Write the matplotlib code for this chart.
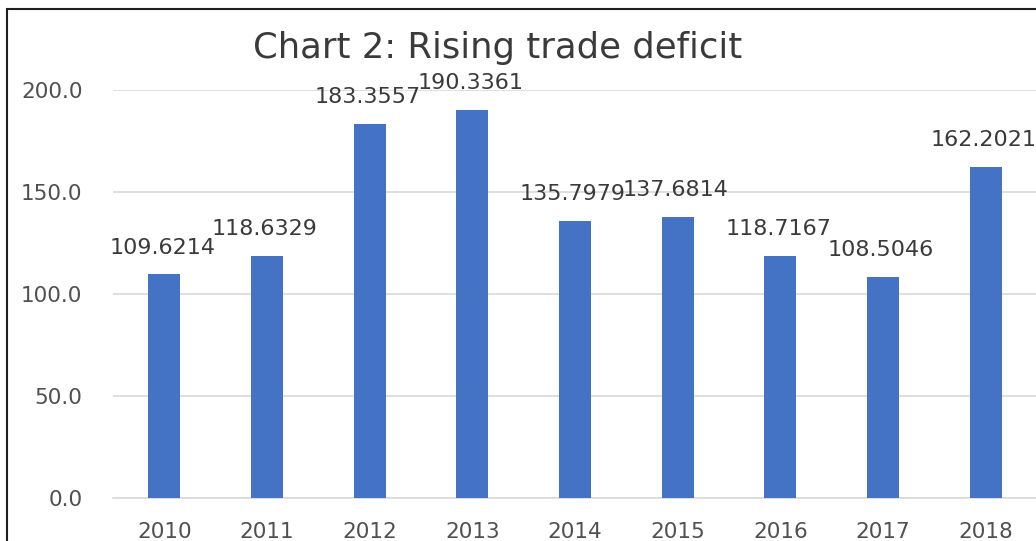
import matplotlib.pyplot as plt
from matplotlib.patches import Rectangle

years = ["2010", "2011", "2012", "2013", "2014", "2015", "2016", "2017", "2018"]
deficit = [109.6214, 118.6329, 183.3557, 190.3361, 135.7979,
           137.6814, 118.7167, 108.5046, 162.2021]
yticks = [0, 50, 100, 150, 200]

BAR_COLOR = "#4472C4"
GRID_COLOR = "#D9D9D9"
TEXT_COLOR = "#3A3A3A"
TICK_COLOR = "#505050"


def main():
    plt.rcParams['font.family'] = ['DejaVu Sans']

    fig = plt.figure(figsize=(10.36, 5.41), dpi=100)
    ax = fig.add_axes([0.1091, 0.0795, 0.8919, 0.7541])

    x = list(range(len(years)))
    ax.bar(x, deficit, width=0.31, color=BAR_COLOR, zorder=3)

    # value labels above each bar
    for xi, v in zip(x, deficit):
        ax.annotate(f"{v:.4f}", xy=(xi, v), xytext=(-1.5, 15),
                    textcoords="offset points", ha="center", va="baseline",
                    fontsize=16, color=TEXT_COLOR, zorder=4)

    ax.set_xlim(-0.5, len(years) - 0.5)
    ax.set_ylim(0, 200)
    ax.set_xticks(x)
    ax.set_xticklabels(years)
    ax.set_yticks(yticks)
    ax.set_yticklabels([f"{t:.1f}" for t in yticks])
    ax.tick_params(axis="both", length=0, labelsize=15.5, labelcolor=TICK_COLOR)
    ax.tick_params(axis="x", pad=17)
    ax.tick_params(axis="y", pad=22)

    ax.grid(axis="y", color=GRID_COLOR, linewidth=1.2, zorder=0)
    for side in ["top", "right", "left"]:
        ax.spines[side].set_visible(False)
    ax.spines["bottom"].set_color(GRID_COLOR)
    ax.spines["bottom"].set_linewidth(1.2)

    fig.text(498 / 1036, 1 - 58 / 541, "Chart 2: Rising trade deficit",
             ha="center", va="baseline", fontsize=25.5, color=TEXT_COLOR)

    # chart frame, only its top and left edges fall inside the image
    fig.patches.append(Rectangle((7 / 1036, -0.1), 1.2, 1.1 - 9 / 541,
                                 transform=fig.transFigure, fill=False,
                                 edgecolor="#202020", linewidth=1.5))

    fig.savefig("out.png", dpi=100)


if __name__ == '__main__':
    main()
